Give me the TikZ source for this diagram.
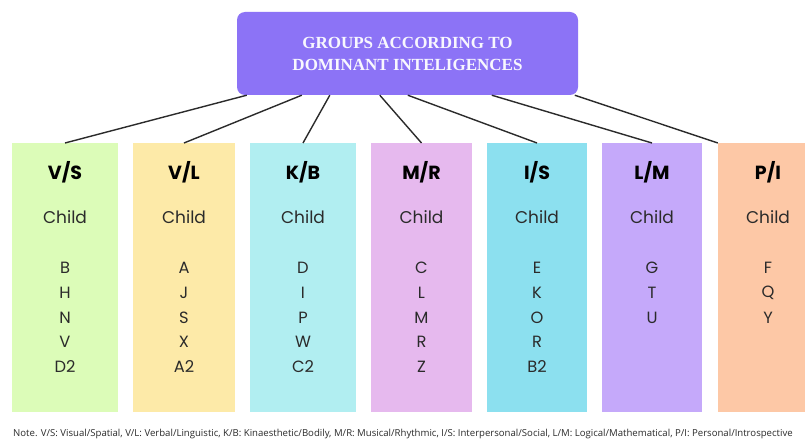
\documentclass[tikz,border=0pt]{standalone}
\usepackage{fontspec}
\setmainfont{Open Sans}
\newfontfamily\boxfont{Poppins}
\newfontfamily\titlefont{Liberation Serif}
\usetikzlibrary{positioning}

\definecolor{titlecol}{HTML}{8C73F6}
\definecolor{vscol}{HTML}{DCFCB8}
\definecolor{vlcol}{HTML}{FDEAA8}
\definecolor{kbcol}{HTML}{B1EEF1}
\definecolor{mrcol}{HTML}{E6B9EE}
\definecolor{iscol}{HTML}{8CE0EF}
\definecolor{lmcol}{HTML}{C5A9FA}
\definecolor{picol}{HTML}{FDC8A6}
\definecolor{inkcol}{HTML}{2B2B2B}

\tikzset{
  titlebox/.style={rectangle, rounded corners=8pt, fill=titlecol, minimum width=341pt, minimum height=83pt, inner sep=0pt},
  groupbox/.style={rectangle, minimum height=269pt, inner sep=0pt, anchor=north},
  headtext/.style={font=\boxfont\fontsize{19}{22}\selectfont\bfseries, text=black},
  childtext/.style={font=\boxfont\fontsize{17}{20}\selectfont, text=inkcol},
  kidtext/.style={font=\boxfont\fontsize{16.3}{19}\selectfont, text=inkcol},
  link/.style={draw=inkcol, line width=1.4pt}
}

\begin{document}
\begin{tikzpicture}[x=1pt, y=-1pt]
  \useasboundingbox[fill=white] (0,0) rectangle (805,441);

  \node[titlebox, align=center, text=white!94!titlecol,
        font=\titlefont\fontsize{17}{22}\selectfont\bfseries] (title) at (407.5,53.5)
    {GROUPS ACCORDING TO\\DOMINANT INTELIGENCES};

  % one column per intelligence group
  \foreach \name/\cx/\bw/\col/\head/\kids in {
      vs/65/106/vscol/{V/S}/{B,H,N,V,D2},
      vl/184/102/vlcol/{V/L}/{A,J,S,X,A2},
      kb/303/106/kbcol/{K/B}/{D,I,P,W,C2},
      mr/421.5/101/mrcol/{M/R}/{C,L,M,R,Z},
      is/537/100/iscol/{I/S}/{E,K,O,R,B2},
      lm/652/100/lmcol/{L/M}/{G,T,U},
      pi/768/100/picol/{P/I}/{F,Q,Y}} {
    \node[groupbox, fill=\col, minimum width=\bw pt] (\name) at (\cx,143) {};
    \node[headtext] (\name-head) at (\cx,172) {\head};
    \node[childtext] (\name-child) at (\cx,217) {Child};
    \foreach \k [count=\i] in \kids
      \node[kidtext] (\name-kid\i) at (\cx,243.3+24.7*\i) {\k};
  }

  % connectors from the title box
  \draw[link] ([xshift=10pt]title.south west) -- (vs.north);
  \draw[link] ([xshift=65pt]title.south west) -- (vl.north);
  \draw[link] ([xshift=93pt]title.south west) -- (kb.north);
  \draw[link] ([xshift=143pt]title.south west) -- (mr.north);
  \draw[link] ([xshift=171pt]title.south west) -- (is.north);
  \draw[link] ([xshift=255pt]title.south west) -- (lm.north);
  \draw[link] ([xshift=338pt]title.south west) -- (pi.north west);

  \node[anchor=base west, inner sep=0pt, text=inkcol, font=\fontsize{9.6}{11}\selectfont] (note) at (13,436)
    {Note. V/S: Visual/Spatial, V/L: Verbal/Linguistic, K/B: Kinaesthetic/Bodily, M/R: Musical/Rhythmic, I/S: Interpersonal/Social, L/M: Logical/Mathematical, P/I: Personal/Introspective};
\end{tikzpicture}
\end{document}
